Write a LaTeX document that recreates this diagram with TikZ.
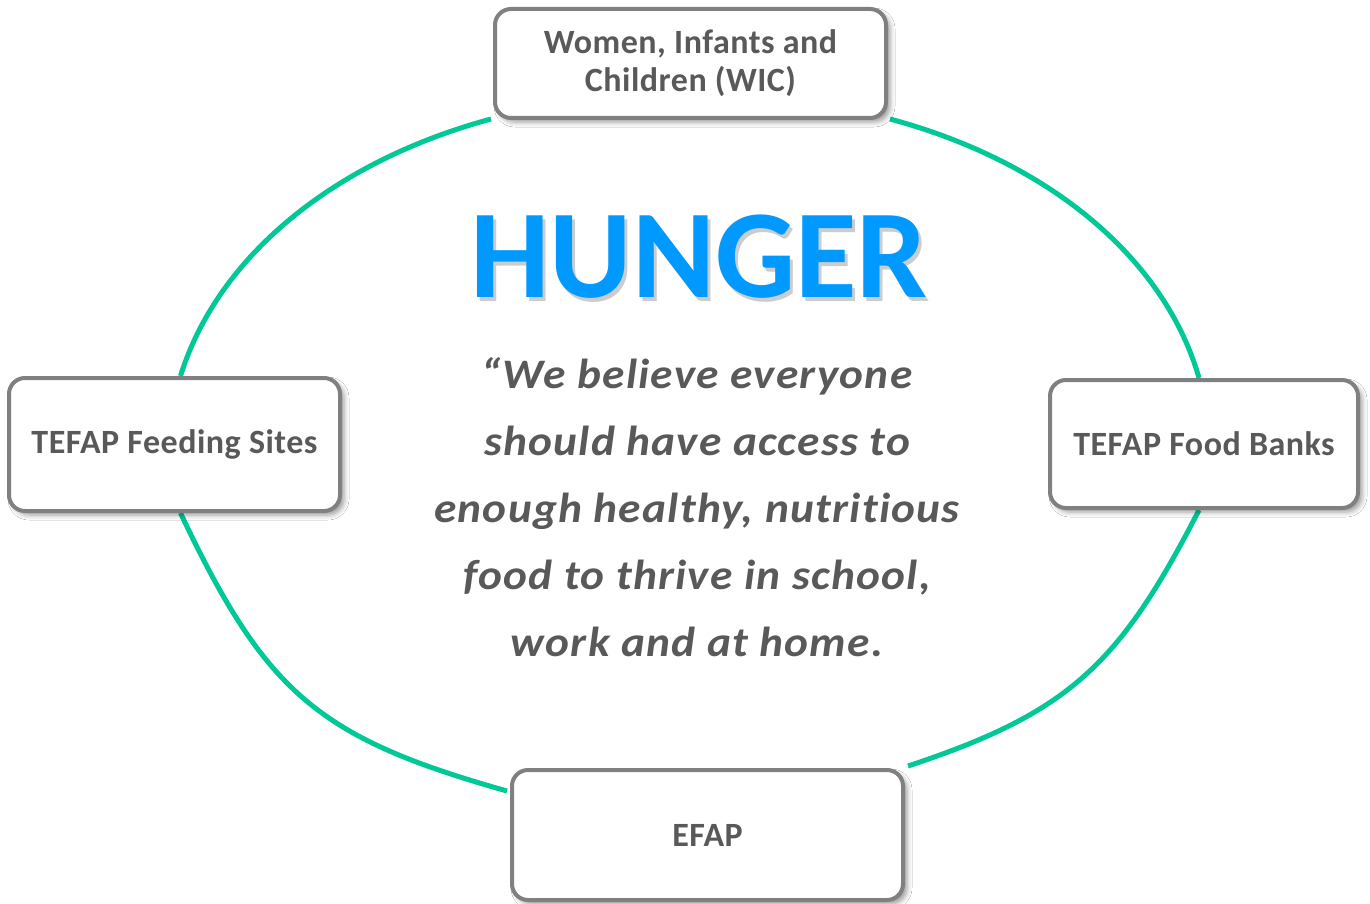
\documentclass[tikz,border=0pt]{standalone}
\usepackage{fontspec}
\setmainfont{Carlito}
\newfontfamily\quotefont[FakeStretch=1.08, LetterSpace=3, Ligatures=NoCommon]{Carlito}
\newfontfamily\boxfont[LetterSpace=1.5, Ligatures=NoCommon]{Carlito}
\usetikzlibrary{calc,shadows.blur,backgrounds}
\definecolor{txtgray}{HTML}{595959}
\definecolor{boxgray}{HTML}{808080}
\definecolor{arcgreen}{RGB}{0,200,150}
\definecolor{hungerblue}{HTML}{0099FF}
\begin{document}
\begin{tikzpicture}[x=1pt,y=-1pt,
  box/.style={draw=boxgray, line width=4pt, fill=white, rounded corners=16pt,
    align=center, text=txtgray, font=\boxfont\bfseries\fontsize{34}{38}\selectfont, inner sep=0pt,
    blur shadow={shadow xshift=4pt, shadow yshift=-4pt, shadow blur radius=5pt, shadow opacity=40}},
  ring/.style={draw=arcgreen, line width=5pt},
  bigword/.style={font=\bfseries\fontsize{126}{126}\selectfont, anchor=base, inner sep=0pt},
  wordshadow/.style={bigword, text=black, opacity=0.2},
  quotetext/.style={font=\quotefont\bfseries\itshape\fontsize{42}{67}\selectfont, text=txtgray, align=center, inner sep=0pt}]
\useasboundingbox (0,0) rectangle (1370,904);

\node[box, minimum width=391pt, minimum height=109pt] (wic) at (690.5,63.5) {Women, Infants and\\Children (WIC)};
\node[box, minimum width=331pt, minimum height=133pt] (left) at (174.5,444.5) {TEFAP Feeding Sites};
\node[box, minimum width=308pt, minimum height=128pt] (right) at (1204,444) {TEFAP Food Banks};
\node[box, minimum width=391pt, minimum height=130pt] (efap) at (707.5,835) {EFAP};

\node[wordshadow] (hshadow) at (702,301) {HUNGER};
\node[bigword, text=hungerblue] (hunger) at (699,297) {HUNGER};

\node[quotetext] (quote) at (697,507) {“We believe everyone\\should have access to\\enough healthy, nutritious\\food to thrive in school,\\work and at home.};

\begin{pgfonlayer}{background}
\fill[white] (0,0) rectangle (1370,904);
\draw[ring] ($(left.north)+(6,0)$) .. controls (217,258) and (332,162) .. ($(wic.south west)+(-2,-1)$);
\draw[ring] ($(wic.south east)+(2,-1)$) .. controls (1050,162) and (1165,259) .. ($(right.north)+(-5,0)$);
\draw[ring] ($(right.south)+(-5,0)$) .. controls (1119,666) and (1068,713) .. ($(efap.north east)+(3,-2)$);
\draw[ring] ($(left.south)+(6,0)$) .. controls (266,694) and (319,738) .. ($(efap.north west)+(-3,23)$);
\end{pgfonlayer}
\end{tikzpicture}
\end{document}
